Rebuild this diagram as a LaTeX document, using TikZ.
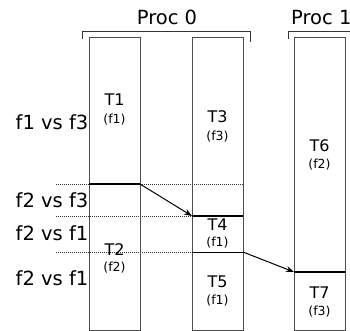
\documentclass[tikz,border=0pt]{standalone}
\usepackage{fontspec}
\setmainfont{DejaVu Sans}
\usetikzlibrary{arrows.meta}
\begin{document}
\begin{tikzpicture}[x=1pt,y=-1pt,
  col/.style={draw=black!70,line width=0.9pt},
  big/.style={font=\fontsize{19.5}{20}\selectfont,inner sep=0pt},
  tname/.style={font=\fontsize{16}{16}\selectfont,inner sep=0pt,anchor=base},
  fname/.style={font=\fontsize{12.5}{13}\selectfont,inner sep=0pt,anchor=base},
  bnd/.style={line width=1.5pt,black},
  thin/.style={line width=0.9pt,black},
  dots/.style={line width=0.8pt,dash pattern=on 1pt off 1pt,black!80},
  brk/.style={line width=1pt,black!80},
  arr/.style={line width=1pt,-{Stealth[length=8pt,width=6pt]}}]
\useasboundingbox (0,0) rectangle (350,331);
% dotted guide lines
\draw[dots] (56,184) -- (243,184);
\draw[dots] (56,216) -- (192,216);
\draw[dots] (56,252) -- (192,252);
% columns
\draw[col] (89,37) rectangle (140,330);
\draw[col] (192,37) rectangle (243,330);
\draw[col] (294,37) rectangle (345,330);
% brackets
\draw[brk] (82,39) -- (82,32) -- (250,32) -- (250,42);
\draw[brk] (288,39) -- (288,32) -- (352,32);
\node[big,anchor=base] (p0) at (167,25) {Proc 0};
\node[big,anchor=base west] (p1) at (291,25) {Proc 1};
% side labels
\node[big,anchor=base east] (l1) at (88.5,130) {f1 vs f3};
\node[big,anchor=base east] (l2) at (88.5,207) {f2 vs f3};
\node[big,anchor=base east] (l3) at (88.5,240) {f2 vs f1};
\node[big,anchor=base east] (l4) at (88.5,285) {f2 vs f1};
% boundaries
\coordinate (a1) at (89,184);
\coordinate (a2) at (140,184);
\coordinate (b1) at (192,216);
\coordinate (b2) at (243,216);
\coordinate (c1) at (192,252);
\coordinate (c2) at (243,252);
\coordinate (d1) at (294,272);
\coordinate (d2) at (345,272);
\draw[bnd] (a1) -- (a2);
\draw[bnd] (b1) -- (b2);
\draw[thin] (c1) -- (c2);
\draw[bnd] (d1) -- (d2);
\draw[arr] (a2) -- (b1);
\draw[arr] (c2) -- (d1);
% task labels
\node[tname] (t1) at (114.5,106) {T1};
\node[fname] (f1) at (114.5,124) {(f1)};
\node[tname] (t2) at (114.5,255) {T2};
\node[fname] (f2) at (114.5,271.5) {(f2)};
\node[tname] (t3) at (217.5,123) {T3};
\node[fname] (f3) at (217.5,140) {(f3)};
\node[tname] (t4) at (217.5,230) {T4};
\node[fname] (f4) at (217.5,246.5) {(f1)};
\node[tname] (t5) at (217.5,287) {T5};
\node[fname] (f5) at (217.5,304) {(f1)};
\node[tname] (t6) at (319.5,151) {T6};
\node[fname] (f6) at (319.5,168) {(f2)};
\node[tname] (t7) at (319.5,298) {T7};
\node[fname] (f7) at (319.5,315) {(f3)};
\end{tikzpicture}
\end{document}
